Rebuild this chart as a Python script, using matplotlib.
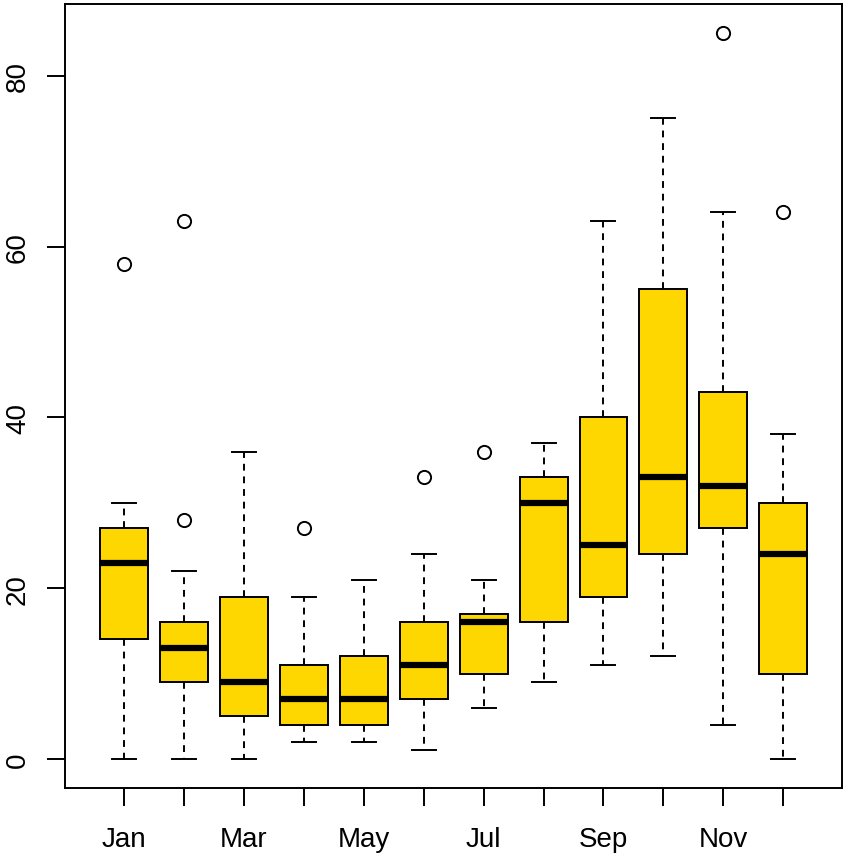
import matplotlib
matplotlib.use("Agg")
import matplotlib.pyplot as plt

months = ["Jan", "Feb", "Mar", "Apr", "May", "Jun", "Jul", "Aug", "Sep", "Oct", "Nov", "Dec"]
whislo = [0, 0, 0, 2, 2, 1, 6, 9, 11, 12, 4, 0]
q1 = [14, 9, 5, 4, 4, 7, 10, 16, 19, 24, 27, 10]
med = [23, 13, 9, 7, 7, 11, 16, 30, 25, 33, 32, 24]
q3 = [27, 16, 19, 11, 12, 16, 17, 33, 40, 55, 43, 30]
whishi = [30, 22, 36, 19, 21, 24, 21, 37, 63, 75, 64, 38]
fliers = [[58], [28, 63], [], [27], [], [33], [36], [], [], [], [85], [64]]
shown_labels = ["Jan", "", "Mar", "", "May", "", "Jul", "", "Sep", "", "Nov", ""]

plt.rcParams['font.family'] = ['Liberation Sans', 'DejaVu Sans']

fig = plt.figure(figsize=(8.47, 8.62), dpi=100)
ax = fig.add_axes([65/847, 1-789/862, (842-65)/847, (789-5)/862])

stats = []
for i, m in enumerate(months):
    stats.append(dict(label=m, whislo=whislo[i], q1=q1[i], med=med[i], q3=q3[i],
                      whishi=whishi[i], fliers=fliers[i]))

pos = list(range(1, len(months) + 1))
ax.bxp(stats, positions=pos, widths=0.8, capwidths=0.4, patch_artist=True,
       boxprops=dict(facecolor="#FFD700", edgecolor="black", linewidth=1.4),
       medianprops=dict(color="black", linewidth=4.5, solid_capstyle="butt"),
       whiskerprops=dict(color="black", linewidth=1.4, linestyle=(0, (3.5, 3))),
       capprops=dict(color="black", linewidth=1.4),
       flierprops=dict(marker="o", markerfacecolor="none", markeredgecolor="black",
                       markersize=9.5, markeredgewidth=1.4))

ax.set_xlim(0.015, 12.98)
ax.set_ylim(-3.4, 88.4)
ax.set_xticks(pos)
ax.set_xticklabels(shown_labels)
ax.set_yticks([0, 20, 40, 60, 80])
ax.set_yticklabels(["0", "20", "40", "60", "80"], rotation=90, va="center")
ax.tick_params(axis="both", length=13, width=1.4, labelsize=20, color="black")
ax.tick_params(axis="x", pad=14.5)
ax.tick_params(axis="y", pad=11.5)
for s in ax.spines.values():
    s.set_linewidth(1.4)

fig.savefig("out.png", dpi=100)
